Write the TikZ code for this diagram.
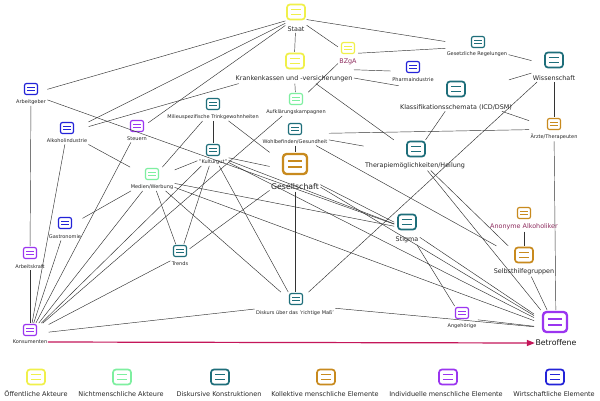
\documentclass[tikz,border=0pt]{standalone}
\usepackage{fontspec}
\setmainfont{DejaVu Sans}
\usetikzlibrary{fit,arrows.meta}
\definecolor{cY}{HTML}{F0F04A}
\definecolor{cG}{HTML}{7EEFA0}
\definecolor{cT}{HTML}{1E6E7A}
\definecolor{cO}{HTML}{C88A1E}
\definecolor{cP}{HTML}{9B35F0}
\definecolor{cB}{HTML}{2323D8}
\definecolor{cM}{HTML}{8E2C5E}
\definecolor{cR}{HTML}{C4165A}
\tikzset{
 icoS/.style={draw=#1, line width=1.2pt, rounded corners=2pt, minimum width=13pt, minimum height=11pt, inner sep=0pt, fill=white,
   path picture={\foreach \s in {-1.7pt,1.7pt}{\draw[#1,line width=1.2pt] ([xshift=2.8pt,yshift=\s]path picture bounding box.west) -- ([xshift=-2.8pt,yshift=\s]path picture bounding box.east);}}},
 icoM/.style={draw=#1, line width=1.7pt, rounded corners=3pt, minimum width=18pt, minimum height=15pt, inner sep=0pt, fill=white,
   path picture={\foreach \s in {-2.4pt,2.4pt}{\draw[#1,line width=1.7pt] ([xshift=3.8pt,yshift=\s]path picture bounding box.west) -- ([xshift=-3.8pt,yshift=\s]path picture bounding box.east);}}},
 icoL/.style={draw=#1, line width=2.3pt, rounded corners=3.5pt, minimum width=24pt, minimum height=20pt, inner sep=0pt, fill=white,
   path picture={\foreach \s in {-3.2pt,3.2pt}{\draw[#1,line width=2.3pt] ([xshift=5pt,yshift=\s]path picture bounding box.west) -- ([xshift=-5pt,yshift=\s]path picture bounding box.east);}}},
 lS/.style={inner sep=0.5pt, font=\fontsize{5}{5.8}\selectfont, text=black!85},
 lM/.style={inner sep=0.5pt, font=\fontsize{6.4}{7}\selectfont, text=black!85},
 lL/.style={inner sep=0.5pt, font=\fontsize{7.8}{9}\selectfont, text=black!90},
 lG/.style={inner sep=0.5pt, font=\fontsize{6.5}{7.2}\selectfont, text=black!85},
 edge/.style={draw=black!80, line width=0.45pt},
 redarrow/.style={draw=cR, line width=1.2pt, -{Triangle[length=8pt,width=6pt]}},
}
\newcommand\mkelem[6]{%
  \node[#3] (#1-i) at (#2) {};
  \node[#5] (#1-l) at (#4) {#6};
  \node[fit=(#1-i)(#1-l), inner sep=0.6pt] (#1) {};
}
\begin{document}
\begin{tikzpicture}[x=1pt,y=-1pt]
\useasboundingbox[fill=white] (0,0) rectangle (600,400);
% elements
\mkelem{staat}{296,12}{icoM=cY}{296,29}{lM}{Staat}
\mkelem{kk}{295,61}{icoM=cY}{294,79}{lM}{Krankenkassen und -versicherungen}
\mkelem{bzga}{348,48}{icoS=cY}{348,62}{lM,text=cM}{BZgA}
\mkelem{gesetz}{478,42}{icoS=cT}{477,54}{lS}{Gesetzliche Regelungen}
\mkelem{pharma}{413,67}{icoS=cB}{413,80}{lS}{Pharmaindustrie}
\mkelem{wiss}{554,60}{icoM=cT}{554,78}{lM}{Wissenschaft}
\mkelem{klass}{456,89}{icoM=cT}{456,107}{lM}{Klassifikationsschemata (ICD/DSM)}
\mkelem{aerzte}{554,124}{icoS=cO}{554,137}{lS}{Ärzte/Therapeuten}
\mkelem{aufkl}{296,99}{icoS=cG}{296,112}{lS}{Aufklärungskampagnen}
\mkelem{wohl}{295,129}{icoS=cT}{295,142}{lS}{Wohlbefinden/Gesundheit}
\mkelem{ges}{295,164}{icoL=cO}{295,187}{lL}{Gesellschaft}
\mkelem{therapie}{416,149}{icoM=cT}{415,166}{lM}{Therapiemöglichkeiten/Heilung}
\mkelem{stigma}{407,222}{icoM=cT}{407,240}{lM}{Stigma}
\mkelem{anon}{524,213}{icoS=cO}{524,227}{lM,text=cM}{Anonyme Alkoholiker}
\mkelem{selbst}{524,255}{icoM=cO}{524,272}{lM}{Selbsthilfegruppen}
\mkelem{angeh}{462,313}{icoS=cP}{462,326}{lS}{Angehörige}
\mkelem{betr}{555,322}{icoL=cP}{556,343}{lL}{Betroffene}
\mkelem{diskurs}{296,299}{icoS=cT}{295,313}{lS}{Diskurs über das \char39richtige Maß\char39}
\mkelem{kons}{30,330}{icoS=cP}{30,342}{lS}{Konsumenten}
\mkelem{arbk}{30,253}{icoS=cP}{30,267}{lS}{Arbeitskraft}
\mkelem{trends}{180,251}{icoS=cT}{180,264}{lS}{Trends}
\mkelem{gastro}{65,223}{icoS=cB}{65,237}{lS}{Gastronomie}
\mkelem{medien}{152,174}{icoS=cG}{152,187}{lS}{Medien/Werbung}
\mkelem{alk}{67,128}{icoS=cB}{67,141}{lS}{Alkoholindustrie}
\mkelem{steuern}{137,126}{icoS=cP}{137,139}{lS}{Steuern}
\mkelem{arbg}{31,89}{icoS=cB}{31,102}{lS}{Arbeitgeber}
\mkelem{milieu}{213,104}{icoS=cT}{213,117}{lS}{Milieuspezifische Trinkgewohnheiten}
\mkelem{kult}{213,150}{icoS=cT}{213,162}{lS}{"Kulturgut"}
% edges
\foreach \a/\b in {staat/kk, staat/bzga, staat/gesetz, staat/arbg, staat/alk, staat/steuern,
  kk/alk, kk/aufkl, kk/pharma, kk/klass, kk/therapie,
  bzga/aufkl, bzga/gesetz,
  gesetz/wiss, klass/wiss, klass/aerzte, klass/therapie, wiss/aerzte, wiss/diskurs, aerzte/betr,
  wohl/aerzte, wohl/therapie, wohl/ges, wohl/selbst,
  therapie/selbst, therapie/betr,
  aufkl/kons,
  arbg/arbk, arbk/kons, arbg/stigma,
  alk/kons, alk/medien,
  steuern/kons,
  gastro/kons, gastro/medien,
  milieu/medien, milieu/kult, milieu/ges,
  medien/kult, medien/trends, medien/diskurs, medien/kons, medien/stigma, medien/betr,
  kult/ges, kult/trends, kult/kons, kult/stigma, kult/betr, kult/diskurs,
  ges/diskurs, ges/stigma, ges/trends, ges/betr,
  trends/kons, kons/diskurs, diskurs/betr,
  stigma/angeh, stigma/betr, angeh/betr, anon/selbst, selbst/betr}
  {\draw[edge] (\a) -- (\b);}
\draw[redarrow] (kons-l.east) -- (betr-l.west);
% legend
\node[icoM=cY] (lg1-i) at (36,377) {};
\node[lG] (lg1-l) at (36,394) {Öffentliche Akteure};
\node[icoM=cG] (lg2-i) at (122,377) {};
\node[lG] (lg2-l) at (121,394) {Nichtmenschliche Akteure};
\node[icoM=cT] (lg3-i) at (220,377) {};
\node[lG] (lg3-l) at (219,394) {Diskursive Konstruktionen};
\node[icoM=cO] (lg4-i) at (326,377) {};
\node[lG] (lg4-l) at (325,394) {Kollektive menschliche Elemente};
\node[icoM=cP] (lg5-i) at (448,377) {};
\node[lG] (lg5-l) at (446,394) {Individuelle menschliche Elemente};
\node[icoM=cB] (lg6-i) at (555,377) {};
\node[lG] (lg6-l) at (554,394) {Wirtschaftliche Elemente};
\end{tikzpicture}
\end{document}
